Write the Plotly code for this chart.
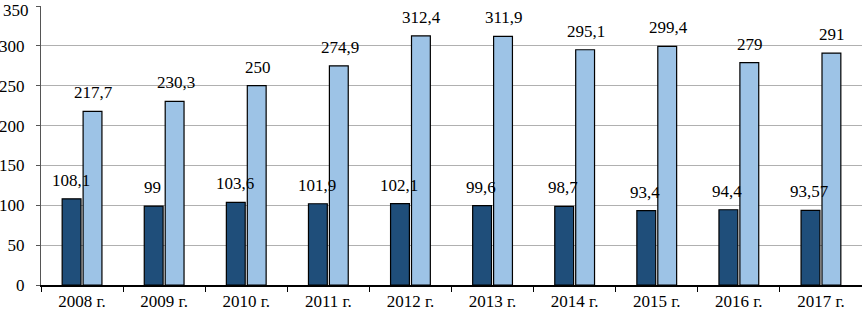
import plotly.graph_objects as go

categories = ["2008 г.", "2009 г.", "2010 г.", "2011 г.", "2012 г.", "2013 г.", "2014 г.", "2015 г.", "2016 г.", "2017 г."]
series_dark = [108.1, 99, 103.6, 101.9, 102.1, 99.6, 98.7, 93.4, 94.4, 93.57]
series_light = [217.7, 230.3, 250, 274.9, 312.4, 311.9, 295.1, 299.4, 279, 291]
labels_dark = ["108,1", "99", "103,6", "101,9", "102,1", "99,6", "98,7", "93,4", "94,4", "93,57"]
labels_light = ["217,7", "230,3", "250", "274,9", "312,4", "311,9", "295,1", "299,4", "279", "291"]
y_ticks = [0, 50, 100, 150, 200, 250, 300, 350]

FONT = "Liberation Serif, Times New Roman, serif"
fig = go.Figure()
fig.add_trace(go.Bar(x=categories, y=series_dark, marker=dict(color="#1F4E7A", line=dict(color="#000000", width=1.2)), name="a"))
fig.add_trace(go.Bar(x=categories, y=series_light, marker=dict(color="#9DC3E6", line=dict(color="#000000", width=1.2)), name="b"))

annotations = []
for c, v, t in zip(categories, series_dark, labels_dark):
    annotations.append(dict(x=c, y=v, text=t, showarrow=False, xshift=-11.5, yshift=7, yanchor="bottom",
                            font=dict(family=FONT, size=17, color="#000000")))
for c, v, t in zip(categories, series_light, labels_light):
    annotations.append(dict(x=c, y=v, text=t, showarrow=False, xshift=11.5, yshift=7, yanchor="bottom",
                            font=dict(family=FONT, size=17, color="#000000")))
# top tick label (plotly hides it because it overflows the figure edge)
annotations.append(dict(xref="paper", x=0, y=y_ticks[-1], text=str(y_ticks[-1]), showarrow=False,
                        xanchor="right", yanchor="top", xshift=-11, yshift=6, borderpad=0,
                        font=dict(family=FONT, size=17, color="#000000")))

fig.update_layout(
    width=862, height=312,
    margin=dict(l=41, r=0, t=6, b=27),
    paper_bgcolor="white", plot_bgcolor="white",
    showlegend=False,
    barmode="group", bargap=0.49, bargroupgap=0.1,
    annotations=annotations,
    font=dict(family=FONT, size=17, color="#000000"),
)
fig.update_xaxes(type="category", showline=True, linecolor="#000000", linewidth=1.5,
                 ticks="outside", tickson="boundaries", ticklen=5, tickcolor="#000000",
                 tickfont=dict(family=FONT, size=17, color="#000000"), automargin=False)
fig.update_yaxes(range=[0, 350], tickvals=y_ticks, showgrid=True, gridcolor="#B0B0B0", gridwidth=1,
                 showline=True, linecolor="#555555", linewidth=1.2, zeroline=False,
                 ticks="outside", ticklen=4, tickcolor="#555555", ticklabelstandoff=8,
                 tickfont=dict(family=FONT, size=17, color="#000000"), automargin=False)

fig.write_html("out.html", config={"displayModeBar": False},
               post_script="document.body.style.margin='0';document.body.style.padding='0';")
